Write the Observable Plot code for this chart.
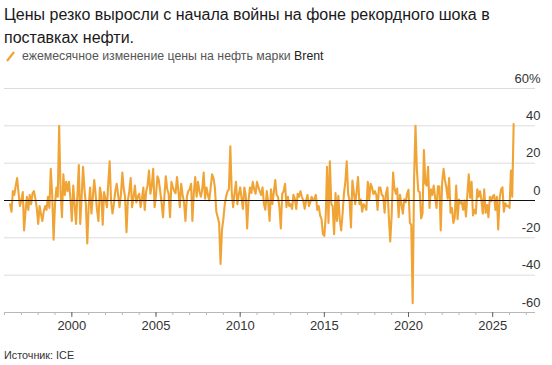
<!DOCTYPE html>
<html><head><meta charset="utf-8">
<script src="https://cdn.jsdelivr.net/npm/d3@7"></script>
<script src="https://cdn.jsdelivr.net/npm/@observablehq/plot@0.6"></script>
<style>
body{margin:0;background:#fff;font-family:"Liberation Sans",Arial,sans-serif;}
#wrap{position:relative;width:552px;height:365px;overflow:hidden;background:#fff;}
#title{position:absolute;left:4px;top:3px;font-size:16px;line-height:23px;color:#1a1a1a;white-space:nowrap;}
#legend{position:absolute;left:5px;top:49px;font-size:12.3px;color:#555;display:flex;align-items:center;white-space:nowrap;}
#chart{position:absolute;left:0;top:66px;}
#source{position:absolute;left:4px;top:349px;font-size:10.8px;color:#333;}
</style></head><body>
<div id="wrap">
<div id="title">Цены резко выросли с начала войны на фоне рекордного шока в<br>поставках нефти.</div>
<div id="legend"><svg width="12" height="12" style="margin-right:5px"><line x1="2" y1="11" x2="9" y2="2" stroke="#f0a434" stroke-width="2.2"/></svg>ежемесячное изменение цены на нефть марки&nbsp;<span style="color:#222">Brent</span></div>
<div id="chart"></div>
<div id="source">Источник: ICE</div>
</div>
<script>
// First month of the series: April 1996 (values are month-over-month % change, month-end)
const firstYear = 1996;
const firstMonthIndex = 3; // April (0-based)

const monthlyChange = [
  // 1996 (Apr–Dec)
  -2, -6, 5, 3, 8, 12, 4, -3, 0,
  // 1997
  4.5, -16, -6, 2, -5, 3, -2, 4, 5, 1, -4, -12.5,
  // 1998
  -3, -7, -11, -6, -3, -5, 2, -4, 17, 3, -21, -2,
  // 1999
  7, 2, 40, 5, -9, 14, 3, 10, 5, 10, 1, -11,
  // 2000
  8, -2, -12.5, 3, 19, -12.5, 2, 18, 6, -2, -23, -3,
  // 2001
  7, -7, 2, 11, 3, -5, -11, 7, 3, -13, 4.5, 1,
  // 2002
  -3.6, 9, 21, 0, -7, -2, 5, 9, 3, -3.6, 3, 15,
  // 2003
  6, 2, -17, 0, 5, 12, -3.6, 2, 8, -1, 2, 3.6,
  // 2004
  -3.6, 1, 7, -5, 5, 8, 16, 3.6, 8, 17, -3.6, 3,
  // 2005
  13, 11, 5, -1, -9, 2, 13, 6, 3.6, -9, 10, 7,
  // 2006
  5, 4, 12.5, 5, -3.6, 9, 3, -1, -11, 2, 5, 6,
  // 2007
  9, -11, 4, 12.5, 2, 10, 5, 2, 6, 15, 1, 7,
  // 2008
  3, 0, 7, 14, 12, 7, -6, -9, -12, -34, -16, -10,
  // 2009
  -2, 2, 5, 6, 29, 4.5, -3.6, 4, 10, -2, 3, 7,
  // 2010
  1, -4.5, 7, 3, -15, 0, 7, 4, 10, 6, 3.6, 10,
  // 2011
  7, 5, 3, 7, -2, -5, 5, -1, -11, 6, -2, 4.5,
  // 2012
  11, 3, 2, -3.6, -15, 3.6, 5, 9, -3.6, 2, -3, -2,
  // 2013
  -4.5, 3, 1, -4.5, 3.6, 2, 5, 2, 0, -4.5, 0, 3,
  // 2014
  -3, -1, 2, 0, 1, 3, -5, -3, -8, -10, -18, -19,
  // 2015
  -8, 18, -12, 21, -2, -3, -18, 4, -11, 2.5, -10, -16,
  // 2016
  -7, 3.6, 10, 21, 3.5, 0, -14.5, 10.7, 4.5, -2, 4.6, 12.5,
  // 2017
  -2, 0.5, -6, -2, -3, -5, 10, 0.4, 9, 7, 3.5, 5,
  // 2018
  3, -5, 7, 7, 3, 2.4, -6.5, 4, 7, -9, -22, -8,
  // 2019
  15, 6.7, 3.6, 6.4, -9, 3, -2, -7, 0.6, -1, 3.6, 5.7,
  // 2020
  -12, -13, -55, 11, 40, 16.5, 5, 4.5, -9.6, -7, 27, 9,
  // 2021
  8, 18, -4, 6, 3, 8, 1.6, -4, 7.6, 7.5, -16, 10,
  // 2022
  17, 11, 7, 1, 12, -6.5, -4, -12, -9, 8, -10, 0.5,
  // 2023
  -1.6, -0.7, -5, 0, -8.6, 3, 14, 1.5, 10, -8, -5, -7,
  // 2024
  6, 2, 5, 0.5, -7, 6, -6.6, -2.4, -9, 2, -0.4, 2.3,
  // 2025
  3, -5, 2, -15.5, 1, 6, 7, -6, -1.5, -3, -3, -4,
  // 2026 (Jan–Mar)
  16, 2, 41
];

const yGridValues = [-40, -20, 20, 40, 60];
const yTickValues = [60, 40, 20, 0, -20, -40, -60];
const xLabelYears = [2000, 2005, 2010, 2015, 2020, 2025];
const xMinorYears = d3.range(1996, 2028);

// month-end date for each value
const data = monthlyChange.map((v, i) => ({
  date: new Date(Date.UTC(firstYear, firstMonthIndex + i + 1, 1)),
  value: v
}));

const xStart = new Date(Date.UTC(1996, 0, 1));
const xEnd = new Date(Date.UTC(2027, 6, 19));

const chart = Plot.plot({
  width: 552,
  height: 276,
  marginLeft: 4,
  marginRight: 17,
  marginTop: 22,
  marginBottom: 30,
  style: {fontFamily: "Liberation Sans, Arial, sans-serif", background: "#fff", overflow: "visible", color: "#333"},
  x: {type: "utc", domain: [xStart, xEnd]},
  y: {domain: [-60, 60], axis: null},
  marks: [
    Plot.ruleY(yGridValues, {stroke: "#dcdcdc", strokeWidth: 1}),
    Plot.ruleY([-60], {stroke: "#b8b8b8", strokeWidth: 1}),
    Plot.axisX({
      ticks: xMinorYears.map(y => new Date(Date.UTC(y, 0, 1))),
      tickSize: 3, tickFormat: () => "", stroke: "#b8b8b8", label: null
    }),
    Plot.axisX({
      ticks: xLabelYears.map(y => new Date(Date.UTC(y, 0, 1))),
      tickSize: 5, tickPadding: 3, tickFormat: "%Y", fontSize: 13,
      stroke: "#666", fill: "#333", label: null
    }),
    Plot.line(data, {x: "date", y: "value", stroke: "#f1a436", strokeWidth: 2.1, strokeLinejoin: "round"}),
    Plot.ruleY([0], {stroke: "#111", strokeWidth: 1}),
    Plot.text(yTickValues, {
      x: () => xEnd, y: d => d,
      text: d => d === 60 ? "60%" : String(d),
      textAnchor: "end", dx: 5, dy: -10, fontSize: 13, fill: "#333"
    })
  ]
});
document.getElementById("chart").appendChild(chart);
</script>
</body></html>
